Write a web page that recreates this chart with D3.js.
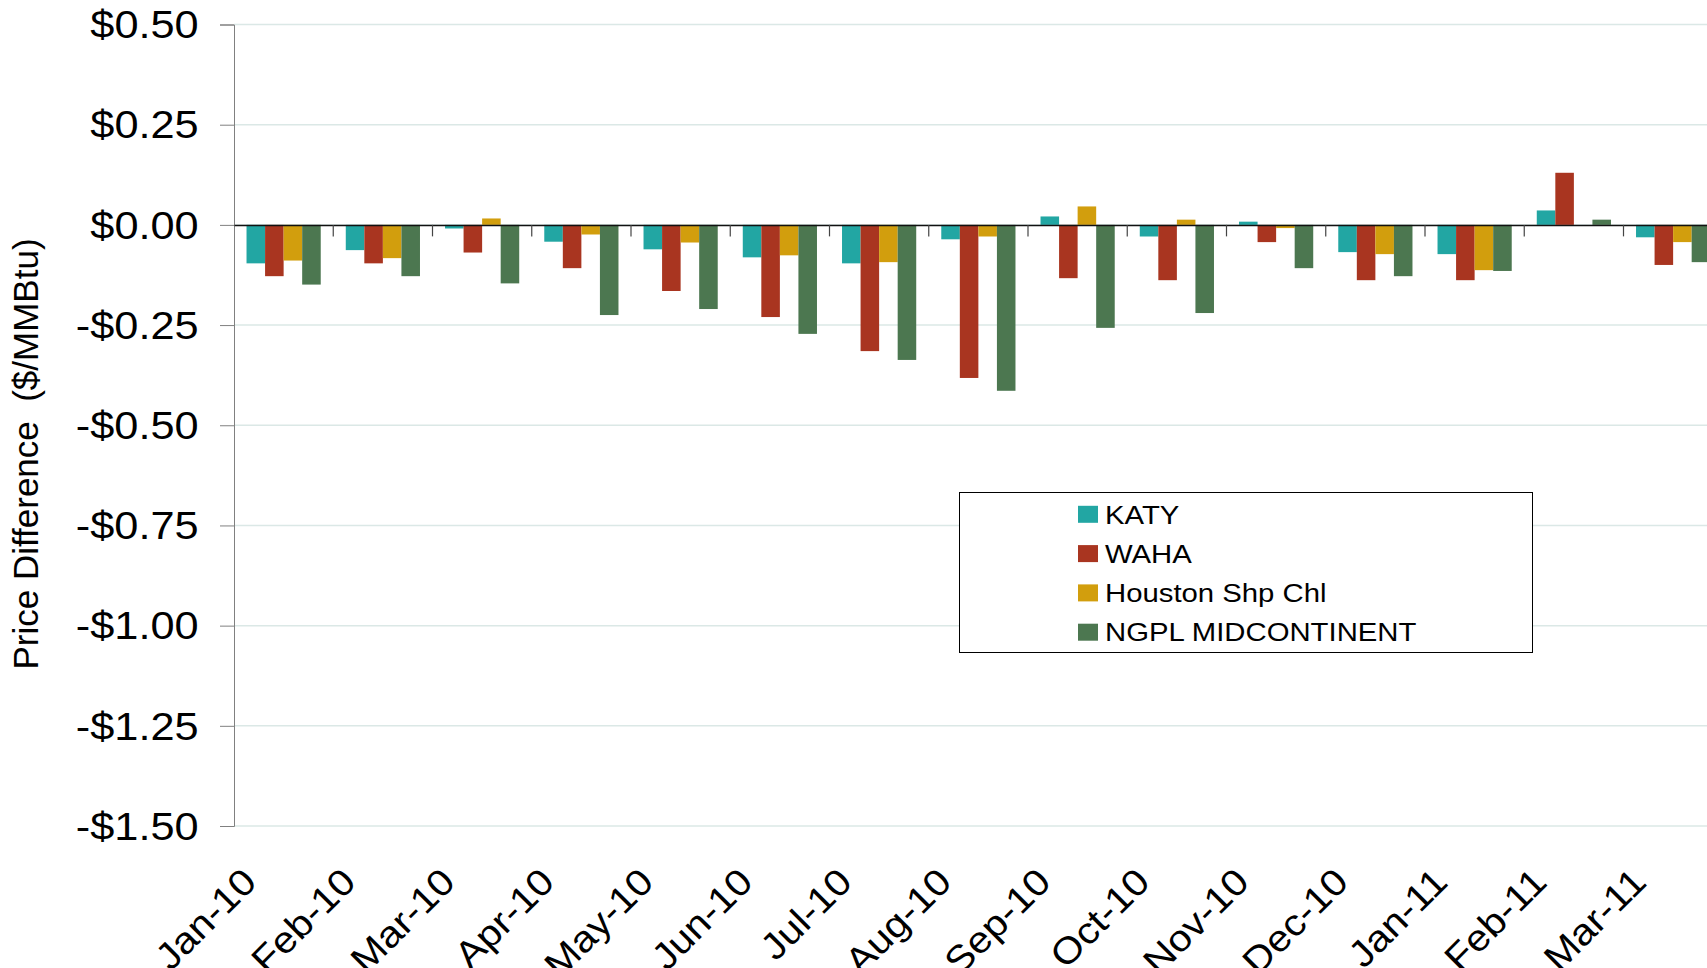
<!DOCTYPE html>
<html>
<head>
<meta charset="utf-8">
<script src="https://cdn.jsdelivr.net/npm/d3@7"></script>
<style>
	body { margin: 0; background: #fff; }
	svg { display: block; font-family: 'Liberation Sans', Arial, sans-serif; }
</style>
</head>
<body>
<script>
// data
var categories = ['Jan-10', 'Feb-10', 'Mar-10', 'Apr-10', 'May-10', 'Jun-10', 'Jul-10', 'Aug-10',
	'Sep-10', 'Oct-10', 'Nov-10', 'Dec-10', 'Jan-11', 'Feb-11', 'Mar-11'];
var series_names = ['KATY', 'WAHA', 'Houston Shp Chl', 'NGPL MIDCONTINENT'];
var katy = [-0.096, -0.063, -0.009, -0.042, -0.061, -0.081, -0.096, -0.036, 0.021, -0.029, 0.008, -0.068, -0.073, 0.036, -0.031];
var waha = [-0.128, -0.096, -0.069, -0.108, -0.165, -0.230, -0.315, -0.382, -0.133, -0.138, -0.043, -0.138, -0.138, 0.130, -0.100];
var houston = [-0.089, -0.083, 0.016, -0.024, -0.044, -0.076, -0.093, -0.029, 0.046, 0.013, -0.008, -0.073, -0.113, 0.000, -0.043];
var ngpl = [-0.149, -0.128, -0.146, -0.225, -0.210, -0.272, -0.337, -0.414, -0.257, -0.220, -0.108, -0.128, -0.115, 0.013, -0.093];
var y_ticks = [0.5, 0.25, 0, -0.25, -0.5, -0.75, -1.0, -1.25, -1.5];
var colors = ['#22a6a3', '#a93520', '#d29e0d', '#4c7750'];

var all_series = [katy, waha, houston, ngpl];

// chart
var W = 1707, H = 968;
var plot = { left: 234, top: 24.5, bottom: 826, cat_w: 99.25 };

var svg = d3.select('body')
	.append('svg')
	.attr('width', W)
	.attr('height', H);

svg.append('rect')
	.attr('width', W)
	.attr('height', H)
	.attr('fill', '#fff');

var x = d3.scaleBand()
	.domain(categories)
	.range([plot.left, plot.left + categories.length * plot.cat_w])
	.padding(0);

var x1 = d3.scaleBand()
	.domain(series_names)
	.range([0, x.bandwidth()])
	.paddingInner(0)
	.paddingOuter(0.675);

var y = d3.scaleLinear()
	.domain([-1.5, 0.5])
	.range([plot.bottom, plot.top]);

var fmt = function (v) {
	return (v < 0 ? '-$' : '$') + Math.abs(v).toFixed(2);
};

// grid
svg.append('g')
	.selectAll('line')
	.data(y_ticks)
	.enter()
	.append('line')
	.attr('x1', plot.left)
	.attr('x2', W)
	.attr('y1', function (d) { return y(d); })
	.attr('y2', function (d) { return y(d); })
	.attr('stroke', '#dbe8e6')
	.attr('stroke-width', 1.5);

// y axis
var y_axis = d3.axisLeft(y)
	.tickValues(y_ticks)
	.tickSize(14)
	.tickPadding(17)
	.tickFormat(fmt);

var gy = svg.append('g')
	.attr('transform', 'translate(' + plot.left + ',0)')
	.call(y_axis);
gy.select('.domain').attr('stroke', '#808080');
gy.selectAll('.tick line').attr('stroke', '#808080');
gy.selectAll('.tick text')
	.attr('font-size', 38)
	.attr('fill', '#000')
	.attr('font-family', 'Liberation Sans, Arial, sans-serif')
	.attr('dy', '0.35em')
	.attr('transform', 'scale(1.14,1)');

// bars
var bar_data = [];
categories.forEach(function (c, i) {
	series_names.forEach(function (s, j) {
		bar_data.push({ cat: c, series: s, value: all_series[j][i], color: colors[j] });
	});
});

svg.append('g')
	.selectAll('rect')
	.data(bar_data)
	.enter()
	.append('rect')
	.attr('x', function (d) { return x(d.cat) + x1(d.series); })
	.attr('width', x1.bandwidth())
	.attr('y', function (d) { return y(Math.max(0, d.value)); })
	.attr('height', function (d) { return Math.abs(y(d.value) - y(0)); })
	.attr('fill', function (d) { return d.color; });

// x axis at zero
var x_axis = d3.axisBottom(x)
	.tickValues([])
	.tickSizeOuter(0);
svg.append('g')
	.attr('transform', 'translate(0,' + y(0) + ')')
	.call(x_axis)
	.select('.domain')
	.attr('stroke', '#111')
	.attr('stroke-width', 1.5);

svg.append('g')
	.selectAll('line')
	.data(categories.slice(1))
	.enter()
	.append('line')
	.attr('x1', function (d) { return x(d); })
	.attr('x2', function (d) { return x(d); })
	.attr('y1', y(0))
	.attr('y2', y(0) + 11.5)
	.attr('stroke', '#444')
	.attr('stroke-width', 1.2);

// x labels
svg.append('g')
	.selectAll('text')
	.data(categories)
	.enter()
	.append('text')
	.attr('transform', function (d) {
		return 'translate(' + (x(d) + x.bandwidth() / 2 - 25) + ',884) rotate(-45) scale(1.1,1)';
	})
	.attr('text-anchor', 'end')
	.attr('font-size', 37)
	.attr('fill', '#000')
	.text(function (d) { return d; });

// y title
svg.append('text')
	.attr('transform', 'translate(38,454) rotate(-90)')
	.attr('text-anchor', 'middle')
	.attr('font-size', 35)
	.attr('fill', '#000')
	.style('white-space', 'pre')
	.text('Price Difference  ($/MMBtu)');

// legend
var legend = svg.append('g');
legend.append('rect')
	.attr('x', 959.5)
	.attr('y', 492.5)
	.attr('width', 573)
	.attr('height', 160)
	.attr('fill', '#fff')
	.attr('stroke', '#000')
	.attr('stroke-width', 1);

var rows = legend.selectAll('g.row')
	.data(series_names)
	.enter()
	.append('g')
	.attr('class', 'row')
	.attr('transform', function (d, i) { return 'translate(0,' + (514.3 + i * 39.3) + ')'; });

rows.append('rect')
	.attr('x', 1078)
	.attr('y', -8.5)
	.attr('width', 20)
	.attr('height', 17)
	.attr('fill', function (d, i) { return colors[i]; });

rows.append('text')
	.attr('transform', 'translate(1105,0) scale(1.145,1)')
	.attr('dy', '0.36em')
	.attr('font-size', 25.6)
	.attr('fill', '#000')
	.text(function (d) { return d; });
</script>
</body>
</html>
